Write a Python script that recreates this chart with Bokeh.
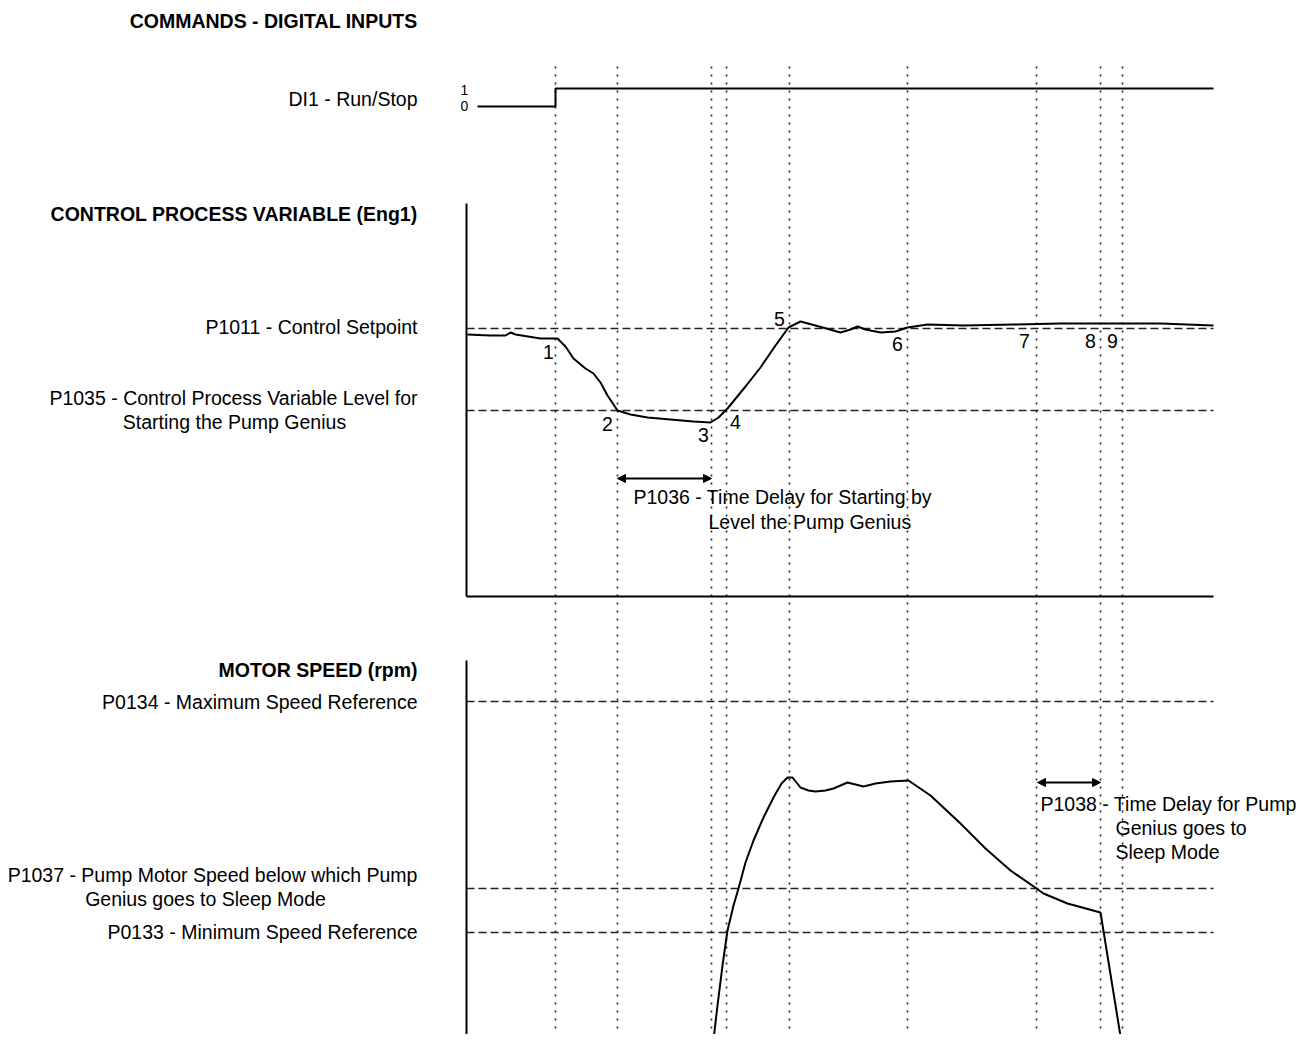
from bokeh.plotting import figure
from bokeh.models import Range1d, Arrow, NormalHead
from bokeh.core.properties import value
from bokeh.embed import file_html
from bokeh.resources import INLINE

FONT = "Liberation Sans"

# ---- data (time axis in drawing units, levels in drawing units) ----
event_times = [555, 617, 711, 726, 789, 907, 1036, 1100, 1122]
event_labels = ["1", "2", "3", "4", "5", "6", "7", "8", "9"]
t_start, t_end = 466, 1213

di1_t = [477, 555, 555, 1213]
di1_v = [106, 106, 88, 88]

cpv_t = [467, 490, 505, 510, 515, 540, 557, 565, 573, 585, 593, 600, 607, 617, 630, 647, 670,
         693, 710, 718, 727, 745, 760, 775, 788, 800, 815, 840, 850, 857, 865, 880, 895, 907,
         927, 963, 1013, 1060, 1100, 1160, 1213]
cpv_v = [334, 335, 335, 332, 334, 338, 338, 346, 358, 368, 373, 382, 395, 410, 414, 417, 419,
         421, 422, 417, 408, 386, 367, 345, 327, 321, 325, 332, 329, 326, 329, 332, 331, 327,
         324, 325, 324, 323, 323, 323, 325]

setpoint_level = 328
start_level = 410
cpv_axis_top, cpv_axis_bottom = 203, 596

spd_t = [712, 717, 722, 727, 733, 738, 745, 753, 763, 773, 781, 787, 792, 796, 800, 808, 815, 825,
         833, 840, 847, 855, 863, 875, 890, 908, 930, 960, 985, 1010, 1036, 1043, 1067, 1100, 1122]
spd_v = [1048, 1005, 965, 930, 905, 888, 862, 840, 817, 797, 783, 777, 777, 782, 787, 790, 791, 790,
         788, 785, 782, 784, 786, 783, 781, 780, 795, 823, 848, 870, 888, 893, 903, 912, 1048]

max_speed_level = 701
sleep_speed_level = 888
min_speed_level = 932
spd_axis_top = 660

p1036_span = [617, 711]
p1038_span = [1037, 1100]

# ---- figure in page units ----
W, H = 1297, 1034
p = figure(width=W, height=H, x_range=Range1d(0, W), y_range=Range1d(H, 0),
           output_backend="svg", toolbar_location=None, min_border=0)
p.axis.visible = False
p.grid.visible = False
p.outline_line_color = None
p.background_fill_color = "white"
p.border_fill_color = "white"

# vertical dotted event lines
for t in event_times:
    p.segment(x0=[t], y0=[66], x1=[t], y1=[1050], line_color="#222222", line_width=1.6,
              line_dash="2 6")

# panel axes
p.segment(x0=[t_start], y0=[cpv_axis_top], x1=[t_start], y1=[cpv_axis_bottom], line_color="black", line_width=2)
p.segment(x0=[t_start], y0=[cpv_axis_bottom], x1=[t_end], y1=[cpv_axis_bottom], line_color="black", line_width=2)
p.segment(x0=[t_start], y0=[spd_axis_top], x1=[t_start], y1=[1050], line_color="black", line_width=2)

# dashed reference levels
for lvl in [setpoint_level, start_level, max_speed_level, sleep_speed_level, min_speed_level]:
    p.segment(x0=[t_start], y0=[lvl], x1=[t_end], y1=[lvl], line_color="#222222", line_width=1.6,
              line_dash="8 4")

# signals
p.line(di1_t, di1_v, line_color="black", line_width=2)
p.line(cpv_t, cpv_v, line_color="black", line_width=2)
p.line(spd_t, spd_v, line_color="black", line_width=2)

# arrows
for (a, b), y in [(p1036_span, 478), (p1038_span, 782)]:
    p.add_layout(Arrow(x_start=a, y_start=y, x_end=b, y_end=y, line_width=2,
                       start=NormalHead(size=8, fill_color="black", line_color="black"),
                       end=NormalHead(size=8, fill_color="black", line_color="black")))

def txt(x, y, s, size="19.5px", align="left", bold=False):
    p.text(x=[x], y=[y], text=[s], text_font=value(FONT), text_font_size=size,
           text_align=align, text_baseline="middle", text_color="black",
           text_font_style="bold" if bold else "normal")

# left labels
txt(417, 20, "COMMANDS - DIGITAL INPUTS", align="right", bold=True)
txt(417, 98, "DI1 - Run/Stop", align="right")
txt(417, 213, "CONTROL PROCESS VARIABLE (Eng1)", align="right", bold=True)
txt(417, 326, "P1011 - Control Setpoint", align="right")
txt(233, 397, "P1035 - Control Process Variable Level for", align="center")
txt(234, 421, "Starting the Pump Genius", align="center")
txt(417, 669, "MOTOR SPEED (rpm)", align="right", bold=True)
txt(417, 701, "P0134 - Maximum Speed Reference", align="right")
txt(212, 874, "P1037 - Pump Motor Speed below which Pump", align="center")
txt(205, 898, "Genius goes to Sleep Mode", align="center")
txt(417, 931, "P0133 - Minimum Speed Reference", align="right")

# DI1 state labels
txt(464, 89, "1", size="14px", align="center")
txt(464, 105, "0", size="14px", align="center")

# event numbers
num_pos = [(548, 351), (607, 423), (703, 434), (735, 421), (779, 318), (897, 343),
           (1024, 340), (1090, 340), (1112, 340)]
for (x, y), s in zip(num_pos, event_labels):
    txt(x, y, s, align="center")

# annotations
txt(633, 496, "P1036 - Time Delay for Starting by")
txt(708, 521, "Level the Pump Genius")
txt(1040, 803, "P1038 - Time Delay for Pump")
txt(1115, 827, "Genius goes to")
txt(1115, 851, "Sleep Mode")

open("out.html", "w").write(file_html(p, INLINE))
